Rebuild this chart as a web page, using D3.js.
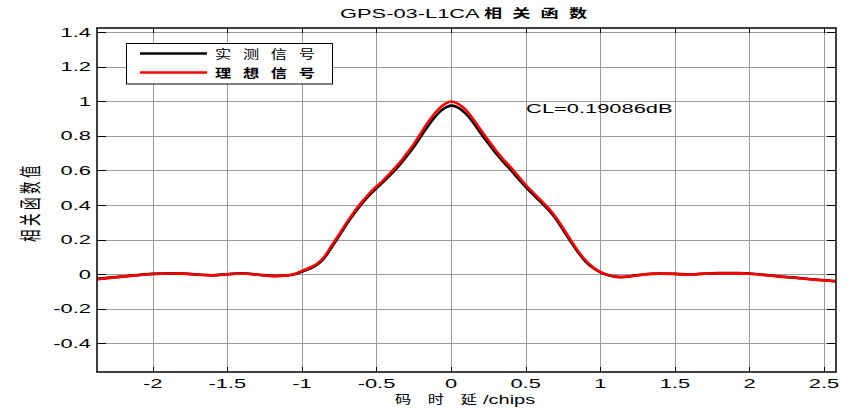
<!DOCTYPE html>
<html>
<head>
<meta charset="utf-8">
<script src="https://cdn.jsdelivr.net/npm/d3@7"></script>
<style>
  html, body { margin: 0; padding: 0; background: #fff; }
  svg { display: block; }
  text { font-family: "Liberation Sans", Arial, "Noto Sans CJK SC", sans-serif; fill: #000; }
</style>
</head>
<body>
<script>
// Code delay (chips) at which the correlation is sampled
const delay = [
  -2.37, -2.2, -2.0, -1.8, -1.7, -1.6, -1.5, -1.4, -1.3, -1.2, -1.1, -1.05,
  -1.0, -0.95, -0.9, -0.85, -0.8, -0.75, -0.7, -0.65, -0.6, -0.55, -0.5, -0.45,
  -0.4, -0.35, -0.3, -0.25, -0.2, -0.15, -0.1, -0.05, 0,
  0.05, 0.1, 0.15, 0.2, 0.25, 0.3, 0.35, 0.4, 0.45, 0.5, 0.55, 0.6, 0.65,
  0.7, 0.75, 0.8, 0.85, 0.9, 0.95, 1.0, 1.05, 1.1, 1.15, 1.2, 1.3, 1.4,
  1.5, 1.6, 1.7, 1.8, 1.9, 2.0, 2.1, 2.2, 2.3, 2.4, 2.5, 2.58
];

// Measured correlation (实测信号)
const measured = [
  -0.028, -0.014, 0.001, 0.003, -0.003, -0.007, -0.001, 0.004, -0.003, -0.011, -0.009, -0.002,
  0.014, 0.030, 0.052, 0.092, 0.155, 0.220, 0.288, 0.350, 0.405, 0.455, 0.497, 0.537,
  0.580, 0.627, 0.680, 0.737, 0.800, 0.863, 0.918, 0.958, 0.976,
  0.963, 0.928, 0.875, 0.815, 0.757, 0.700, 0.650, 0.603, 0.553, 0.505, 0.460, 0.418, 0.375,
  0.322, 0.257, 0.190, 0.127, 0.074, 0.036, 0.010, -0.006, -0.015, -0.017, -0.013, -0.001, 0.003,
  0.001, -0.003, 0.003, 0.005, 0.005, 0.003, -0.005, -0.014, -0.021, -0.029, -0.036, -0.042
];

// Ideal correlation (理想信号)
const ideal = [
  -0.030, -0.015, 0.000, 0.002, -0.004, -0.008, -0.002, 0.003, -0.004, -0.012, -0.008, 0.000,
  0.018, 0.035, 0.058, 0.100, 0.165, 0.230, 0.298, 0.360, 0.415, 0.465, 0.507, 0.547,
  0.592, 0.640, 0.695, 0.752, 0.820, 0.885, 0.940, 0.980, 1.000,
  0.985, 0.950, 0.895, 0.835, 0.775, 0.717, 0.665, 0.618, 0.567, 0.517, 0.472, 0.428, 0.385,
  0.332, 0.267, 0.200, 0.135, 0.080, 0.040, 0.012, -0.005, -0.015, -0.018, -0.014, -0.002, 0.002,
  0.000, -0.004, 0.002, 0.004, 0.004, 0.002, -0.006, -0.015, -0.022, -0.030, -0.037, -0.043
];

const xTicks = [-2, -1.5, -1, -0.5, 0, 0.5, 1, 1.5, 2, 2.5];
const xTickLabels = ["-2", "-1.5", "-1", "-0.5", "0", "0.5", "1", "1.5", "2", "2.5"];
const yTicks = [-0.4, -0.2, 0, 0.2, 0.4, 0.6, 0.8, 1, 1.2, 1.4];
const yTickLabels = ["-0.4", "-0.2", "0", "0.2", "0.4", "0.6", "0.8", "1", "1.2", "1.4"];

const seriesNames = ["实 测 信 号", "理 想 信 号"];
const titleLatin = "GPS-03-L1CA";
const titleCJK = "相 关 函 数";
const xLabelCJK = "码 时 延";
const xLabelUnit = "/chips";
const yLabel = "相关函数值";
const clLabel = "CL=0.19086dB";

const W = 848, H = 412;
const plot = { left: 97, right: 836, top: 28, bottom: 372 };
const SX = 1.75; // horizontal stretch of Latin text

const svg = d3.select("body").append("svg").attr("width", W).attr("height", H);

const x = d3.scaleLinear().domain([-2.373, 2.58]).range([plot.left, plot.right]);
const y = d3.scaleLinear().domain([-0.568, 1.426]).range([plot.bottom, plot.top]);

function label(g, px, py, str, anchor, size, weight, sx) {
  return g.append("text")
    .attr("transform", `translate(${px},${py}) scale(${sx || SX},1)`)
    .attr("text-anchor", anchor || "start")
    .attr("font-size", size || 12.5)
    .attr("font-weight", weight || "normal")
    .text(str);
}

// CJK text: narrower glyphs, spread over a given on-screen width
function cjkLabel(g, px, py, str, width, sx, size, weight) {
  return g.append("text")
    .attr("transform", `translate(${px},${py}) scale(${sx},1)`)
    .attr("font-size", size)
    .attr("font-weight", weight)
    .attr("textLength", width / sx)
    .attr("lengthAdjust", "spacing")
    .text(str);
}

// plot background
svg.append("rect")
  .attr("x", plot.left).attr("y", plot.top)
  .attr("width", plot.right - plot.left).attr("height", plot.bottom - plot.top)
  .attr("fill", "#fff");

// grid
const grid = svg.append("g").attr("stroke", "#9a9a9a").attr("stroke-width", 1);
grid.selectAll("line.gx").data(xTicks).join("line")
  .attr("x1", d => Math.round(x(d)) + 0.5).attr("x2", d => Math.round(x(d)) + 0.5)
  .attr("y1", plot.top).attr("y2", plot.bottom);
grid.selectAll("line.gy").data(yTicks).join("line")
  .attr("y1", d => Math.round(y(d)) + 0.5).attr("y2", d => Math.round(y(d)) + 0.5)
  .attr("x1", plot.left).attr("x2", plot.right);

// curves
svg.append("clipPath").attr("id", "plotClip").append("rect")
  .attr("x", plot.left).attr("y", plot.top)
  .attr("width", plot.right - plot.left).attr("height", plot.bottom - plot.top);

const line = d3.line()
  .x(d => x(d[0])).y(d => y(d[1]))
  .curve(d3.curveCatmullRom.alpha(0.5));

const curves = svg.append("g").attr("clip-path", "url(#plotClip)")
  .attr("fill", "none").attr("stroke-linejoin", "round").attr("stroke-linecap", "round");
curves.append("path")
  .attr("d", line(d3.zip(delay, measured)))
  .attr("stroke", "#000").attr("stroke-width", 2.6);
curves.append("path")
  .attr("d", line(d3.zip(delay, ideal)))
  .attr("stroke", "#ff0000").attr("stroke-width", 2.6);

// axes box and inward ticks on all four sides
const axes = svg.append("g").attr("stroke", "#000");
axes.append("rect")
  .attr("x", plot.left).attr("y", plot.top)
  .attr("width", plot.right - plot.left).attr("height", plot.bottom - plot.top)
  .attr("fill", "none").attr("stroke-width", 1.5);
axes.selectAll("line.tb").data(xTicks).join("line")
  .attr("x1", d => Math.round(x(d)) + 0.5).attr("x2", d => Math.round(x(d)) + 0.5)
  .attr("y1", plot.bottom).attr("y2", plot.bottom - 5).attr("stroke-width", 1);
axes.selectAll("line.tt").data(xTicks).join("line")
  .attr("x1", d => Math.round(x(d)) + 0.5).attr("x2", d => Math.round(x(d)) + 0.5)
  .attr("y1", plot.top).attr("y2", plot.top + 5).attr("stroke-width", 1);
axes.selectAll("line.tl").data(yTicks).join("line")
  .attr("y1", d => Math.round(y(d)) + 0.5).attr("y2", d => Math.round(y(d)) + 0.5)
  .attr("x1", plot.left).attr("x2", plot.left + 9).attr("stroke-width", 1);
axes.selectAll("line.tr").data(yTicks).join("line")
  .attr("y1", d => Math.round(y(d)) + 0.5).attr("y2", d => Math.round(y(d)) + 0.5)
  .attr("x1", plot.right).attr("x2", plot.right - 9).attr("stroke-width", 1);

// tick labels
const tl = svg.append("g");
xTicks.forEach((d, i) => label(tl, x(d), 388, xTickLabels[i], "middle"));
yTicks.forEach((d, i) => label(tl, 91, y(d) + 4.5, yTickLabels[i], "end"));

// title
label(svg, 340, 17.5, titleLatin, "start");
cjkLabel(svg, 484, 17.5, titleCJK, 103, 1.45, 12.5, "bold");

// axis labels
cjkLabel(svg, 395, 404, xLabelCJK, 82, 1.3, 12.5, "normal").attr("fill", "#333");
label(svg, 483, 404, xLabelUnit, "start", 12.5, "normal", 1.6);

svg.append("text")
  .attr("transform", `translate(38,202) scale(${SX},1) rotate(-90)`)
  .attr("text-anchor", "middle").attr("font-size", 12.5)
  .attr("letter-spacing", 3.5)
  .attr("fill", "#222")
  .text(yLabel);

// correlation loss annotation
label(svg, x(0.503), 112.5, clLabel, "start");

// legend
const legend = svg.append("g");
legend.append("rect")
  .attr("x", 126.5).attr("y", 43.5).attr("width", 206).attr("height", 40.5)
  .attr("fill", "#fff").attr("stroke", "#000").attr("stroke-width", 1);
const legendColors = ["#000", "#ff0000"];
const legendY = [53.5, 72.5];
seriesNames.forEach((name, i) => {
  legend.append("line")
    .attr("x1", 140).attr("x2", 207)
    .attr("y1", legendY[i]).attr("y2", legendY[i])
    .attr("stroke", legendColors[i]).attr("stroke-width", 2.6);
  cjkLabel(legend, 215, legendY[i] + 5, name, 100, 1.3, 12.5, i === 1 ? "bold" : "normal")
    .attr("fill", i === 1 ? "#000" : "#333");
});
</script>
</body>
</html>
